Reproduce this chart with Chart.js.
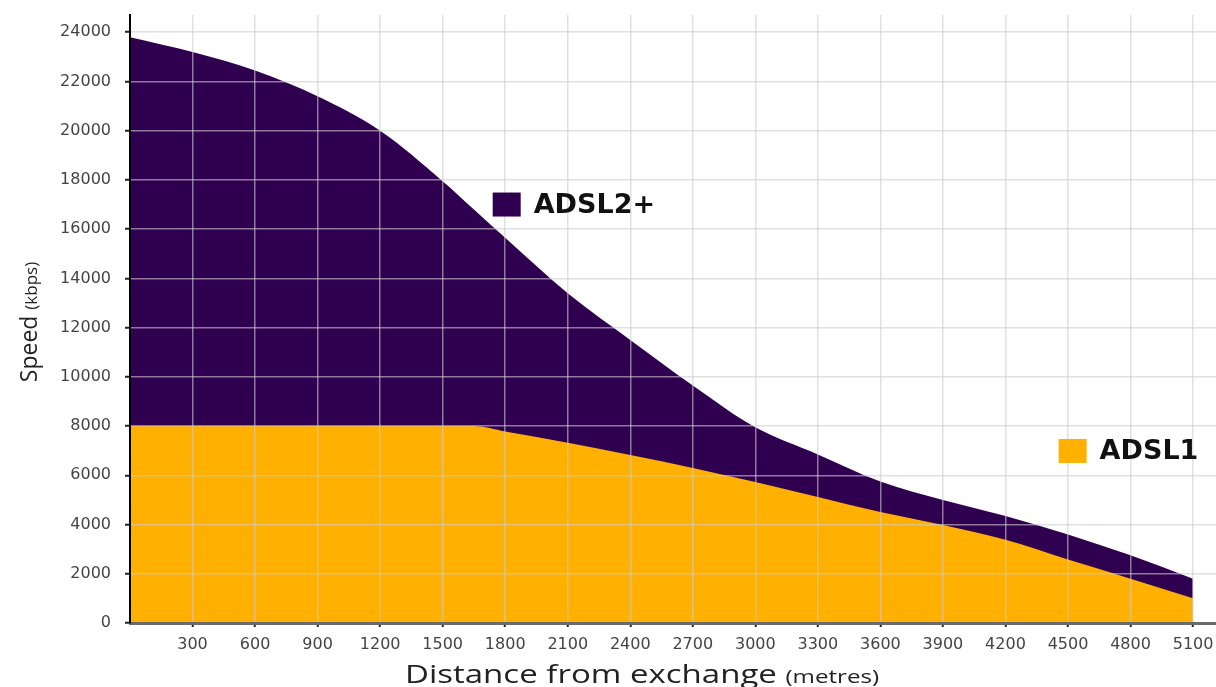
<!DOCTYPE html>
<html>
<head>
<meta charset="utf-8">
<script src="https://cdn.jsdelivr.net/npm/chart.js@4.4.1/dist/chart.umd.min.js"></script>
<style>
  html, body { margin: 0; padding: 0; background: #ffffff; }
  #wrap { width: 1216px; height: 687px; position: relative; }
</style>
</head>
<body>
<div id="wrap"><canvas id="c" width="1216" height="687"></canvas></div>
<script>
// ---- Data ----
const distances = [0, 300, 600, 900, 1200, 1500, 1650, 1800, 2100, 2400, 2700, 3000, 3300, 3600, 3900, 4200, 4500, 4800, 5100];
const adsl2plus = [23800, 23200, 22450, 21400, 20000, 17950, 16800, 15650, 13400, 11500, 9650, 7950, 6850, 5750, 5000, 4350, 3600, 2750, 1800];
const adsl1     = [8000, 8000, 8000, 8000, 8000, 8000, 8000, 7780, 7320, 6820, 6300, 5730, 5120, 4510, 3980, 3380, 2580, 1800, 1000];
const xTickValues = [300, 600, 900, 1200, 1500, 1800, 2100, 2400, 2700, 3000, 3300, 3600, 3900, 4200, 4500, 4800, 5100];
const yTickValues = [0, 2000, 4000, 6000, 8000, 10000, 12000, 14000, 16000, 18000, 20000, 22000, 24000];
const seriesNames = ['ADSL2+', 'ADSL1'];
const seriesColors = ['#300050', '#FFB000'];
const yTitleMain = 'Speed', yTitleUnit = '(kbps)';
const xTitleMain = 'Distance from exchange', xTitleUnit = '(metres)';
// legend anchor positions in data units
const legendAnchors = [{x: 1740, y: 17000}, {x: 4455, y: 6990}];

const toPts = (xs, ys) => xs.map((x, i) => ({x: x, y: ys[i]}));

const annotPlugin = {
  id: 'annot',
  afterDraw(chart) {
    const ctx = chart.ctx;
    const xs = chart.scales.x, ys = chart.scales.y;
    ctx.save();
    // legend entries
    seriesNames.forEach((name, i) => {
      const px = xs.getPixelForValue(legendAnchors[i].x);
      const py = ys.getPixelForValue(legendAnchors[i].y);
      ctx.fillStyle = seriesColors[i];
      ctx.fillRect(px, py - 12, 28, 24);
      ctx.fillStyle = '#111111';
      ctx.font = 'bold 27px "DejaVu Sans"';
      ctx.textBaseline = 'middle';
      ctx.textAlign = 'left';
      ctx.fillText(name, px + 41, py + 1);
    });
    ctx.restore();

    // x axis title (mixed sizes, slightly widened like the reference)
    ctx.save();
    ctx.fillStyle = '#222222';
    ctx.textBaseline = 'alphabetic';
    ctx.translate(642, 683);
    ctx.scale(1.27, 1);
    ctx.font = '26px "Open Sans"';
    const w1 = ctx.measureText(xTitleMain + ' ').width;
    ctx.font = '19px "Open Sans"';
    const w2 = ctx.measureText(xTitleUnit).width;
    let sx = -(w1 + w2) / 2;
    ctx.font = '26px "Open Sans"';
    ctx.fillText(xTitleMain + ' ', sx, 0);
    ctx.font = '19px "Open Sans"';
    ctx.fillText(xTitleUnit, sx + w1, 0);
    ctx.restore();

    // y axis title (rotated)
    ctx.save();
    ctx.fillStyle = '#222222';
    ctx.textBaseline = 'alphabetic';
    ctx.translate(37, 322);
    ctx.rotate(-Math.PI / 2);
    ctx.font = '23px "Open Sans"';
    const v1 = ctx.measureText(yTitleMain + ' ').width;
    ctx.font = '17px "Open Sans"';
    const v2 = ctx.measureText(yTitleUnit).width;
    let sy = -(v1 + v2) / 2;
    ctx.font = '23px "Open Sans"';
    ctx.fillText(yTitleMain + ' ', sy, 0);
    ctx.font = '17px "Open Sans"';
    ctx.fillText(yTitleUnit, sy + v1, 0);
    ctx.restore();
  }
};

const plainNum = (v) => String(v);

new Chart(document.getElementById('c'), {
  type: 'line',
  data: {
    datasets: [
      {
        label: seriesNames[1],
        data: toPts(distances, adsl1),
        backgroundColor: seriesColors[1],
        borderColor: seriesColors[1],
        borderWidth: 0,
        pointRadius: 0,
        fill: 'origin',
        cubicInterpolationMode: 'monotone',
        order: 0
      },
      {
        label: seriesNames[0],
        data: toPts(distances, adsl2plus),
        backgroundColor: seriesColors[0],
        borderColor: seriesColors[0],
        borderWidth: 0,
        pointRadius: 0,
        fill: 'origin',
        cubicInterpolationMode: 'monotone',
        order: 1
      }
    ]
  },
  options: {
    responsive: false,
    animation: false,
    events: [],
    layout: { padding: { left: 0, top: 15, right: 0, bottom: 0 } },
    plugins: { legend: { display: false }, tooltip: { enabled: false }, title: { display: false } },
    scales: {
      x: {
        type: 'linear',
        min: 0,
        max: 5210,
        afterBuildTicks: (s) => { s.ticks = xTickValues.map(v => ({value: v})); },
        afterFit: (s) => { s.height = 64; s.paddingLeft = 0; s.paddingRight = 0; },
        border: { display: true, color: '#6a6a6a', width: 3, z: 2 },
        grid: { z: 1, color: 'rgba(205,205,205,0.6)', lineWidth: 1.5, drawTicks: true, tickLength: 4, tickColor: '#222222', tickWidth: 2 },
        ticks: { color: '#444444', font: { family: '"DejaVu Sans"', size: 16 }, padding: 8, maxRotation: 0, autoSkip: false, callback: plainNum }
      },
      y: {
        type: 'linear',
        min: 0,
        max: 24700,
        afterBuildTicks: (s) => { s.ticks = yTickValues.map(v => ({value: v})); },
        afterFit: (s) => { s.width = 130; s.paddingTop = 0; s.paddingBottom = 0; },
        border: { display: true, color: '#000000', width: 2, z: 2 },
        grid: { z: 1, color: 'rgba(205,205,205,0.6)', lineWidth: 1.5, drawTicks: true, tickLength: 5, tickColor: '#222222', tickWidth: 2 },
        ticks: { color: '#444444', font: { family: '"DejaVu Sans"', size: 16 }, padding: 14, autoSkip: false, callback: plainNum }
      }
    }
  },
  plugins: [annotPlugin]
});
</script>
</body>
</html>
